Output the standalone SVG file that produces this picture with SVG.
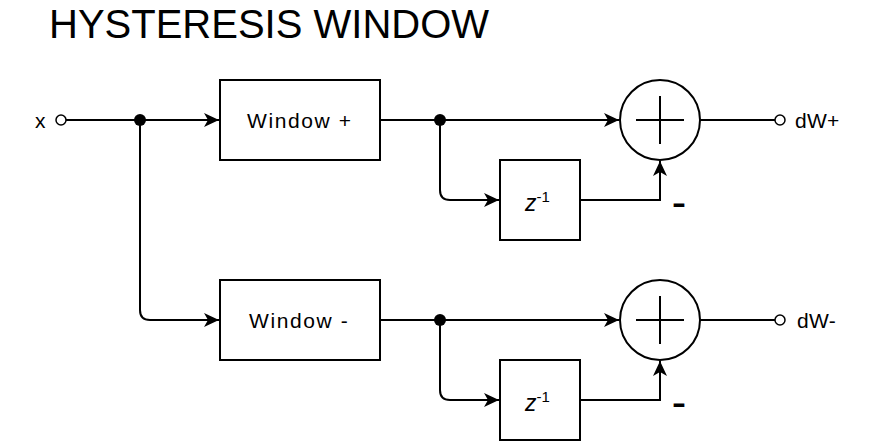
<svg xmlns="http://www.w3.org/2000/svg" width="882" height="442" viewBox="0 0 882 442">
<style>
.box{fill:#fff;stroke:#000;stroke-width:2}
.ln{fill:none;stroke:#000;stroke-width:2}
.lbl{font-family:"Liberation Sans",Arial,sans-serif;font-size:21px;fill:#000;letter-spacing:1.6px}
.title{font-family:"Liberation Sans",Arial,sans-serif;font-size:40px;fill:#000}
.z{font-family:"Liberation Sans",Arial,sans-serif;font-size:23px;font-style:italic;fill:#000}
.sup{font-size:15px;font-style:normal}
.minus{font-family:"Liberation Sans",Arial,sans-serif;font-size:30px;font-weight:bold;fill:#000}
.dot{fill:#000}
.port{fill:#fff;stroke:#000;stroke-width:1.5}
</style>
<defs>
<marker id="arr" viewBox="0 0 15 14" refX="15" refY="7" markerWidth="15" markerHeight="14" markerUnits="userSpaceOnUse" orient="auto">
<path d="M0,0 L15,7 L0,14 L4,7 Z" fill="#000"/>
</marker>
</defs>
<rect width="882" height="442" fill="#fff"/>
<text class="title" x="49" y="38">HYSTERESIS WINDOW</text>

<g id="connectors">
<path class="ln" d="M66,120 H219" marker-end="url(#arr)"/>
<path class="ln" d="M140,120 V310 Q140,320 150,320 H219" marker-end="url(#arr)"/>
<path class="ln" d="M380,120 H619" marker-end="url(#arr)"/>
<path class="ln" d="M440,120 V190 Q440,200 450,200 H499" marker-end="url(#arr)"/>
<path class="ln" d="M580,200 H660 V161" marker-end="url(#arr)"/>
<path class="ln" d="M700,120 H775"/>
<path class="ln" d="M380,320 H619" marker-end="url(#arr)"/>
<path class="ln" d="M440,320 V390 Q440,400 450,400 H499" marker-end="url(#arr)"/>
<path class="ln" d="M580,400 H660 V361" marker-end="url(#arr)"/>
<path class="ln" d="M700,320 H775"/>
</g>

<g id="in-x">
<circle class="port" cx="61" cy="120" r="5"/>
<text class="lbl" x="35" y="128" style="letter-spacing:0">x</text>
</g>
<g id="junction-in"><circle class="dot" cx="140" cy="120" r="6"/></g>

<g id="window-plus">
<rect class="box" x="220" y="80" width="160" height="80"/>
<text class="lbl" x="247" y="127.5">Window +</text>
</g>
<g id="junction-top"><circle class="dot" cx="440" cy="120" r="6"/></g>
<g id="delay-top">
<rect class="box" x="500" y="160" width="80" height="80"/>
<text class="z" x="525" y="211">z<tspan class="sup" dy="-9">-1</tspan></text>
</g>
<g id="sum-top">
<circle class="box" cx="660" cy="120" r="40"/>
<path class="ln" d="M636,120 H684 M660,96 V144"/>
<text class="minus" x="672" y="213" textLength="14" lengthAdjust="spacingAndGlyphs">-</text>
</g>
<g id="out-plus">
<circle class="port" cx="780" cy="120" r="5"/>
<text class="lbl" x="795" y="127.5" style="letter-spacing:0.3px">dW+</text>
</g>

<g id="window-minus">
<rect class="box" x="220" y="280" width="160" height="80"/>
<text class="lbl" x="249" y="327.5">Window -</text>
</g>
<g id="junction-bottom"><circle class="dot" cx="440" cy="320" r="6"/></g>
<g id="delay-bottom">
<rect class="box" x="500" y="360" width="80" height="80"/>
<text class="z" x="525" y="411">z<tspan class="sup" dy="-9">-1</tspan></text>
</g>
<g id="sum-bottom">
<circle class="box" cx="660" cy="320" r="40"/>
<path class="ln" d="M636,320 H684 M660,296 V344"/>
<text class="minus" x="672" y="413" textLength="14" lengthAdjust="spacingAndGlyphs">-</text>
</g>
<g id="out-minus">
<circle class="port" cx="780" cy="320" r="5"/>
<text class="lbl" x="797" y="327.5" style="letter-spacing:0.3px">dW-</text>
</g>
</svg>
